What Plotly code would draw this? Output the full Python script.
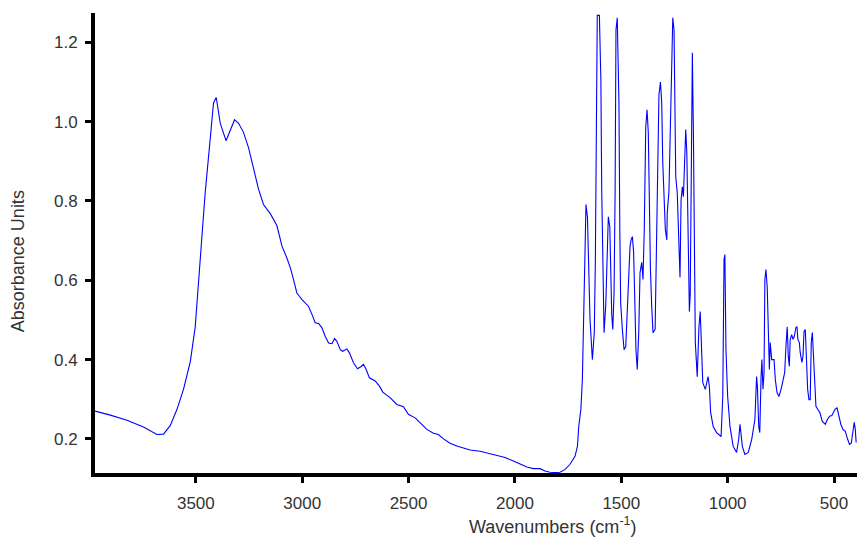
import plotly.graph_objects as go

# Wavenumbers (cm-1) and absorbance
wavenumbers = [
    3974, 3902, 3824, 3746, 3683, 3652, 3620, 3589, 3558, 3526, 3503, 3479, 3456, 3432, 3417, 3404,
    3385, 3358, 3338, 3318, 3299, 3276, 3252, 3229, 3205, 3182, 3150, 3119, 3095, 3072, 3056, 3041,
    3025, 3001, 2970, 2954, 2939, 2923, 2907, 2892, 2876, 2860, 2848, 2837, 2821, 2809, 2790, 2778,
    2759, 2740, 2724, 2712, 2699, 2684, 2657, 2637, 2621, 2587, 2555, 2524, 2501, 2469, 2446, 2414,
    2383, 2360, 2336, 2305, 2273, 2242, 2211, 2164, 2117, 2078, 2046, 2007, 1976, 1944, 1913, 1882,
    1858, 1835, 1811, 1788, 1764, 1741, 1717, 1706, 1700, 1690, 1683, 1678, 1674, 1666, 1659, 1655,
    1647, 1636, 1627, 1622, 1617, 1613, 1603, 1596, 1592, 1587, 1581, 1573, 1566, 1561, 1554, 1550,
    1545, 1540, 1534, 1529, 1525, 1519, 1511, 1507, 1503, 1495, 1487, 1479, 1472, 1465, 1459, 1454,
    1448, 1442, 1437, 1431, 1425, 1418, 1412, 1404, 1398, 1392, 1385, 1379, 1373, 1368, 1363, 1357,
    1351, 1341, 1337, 1331, 1323, 1316, 1310, 1305, 1299, 1293, 1286, 1284, 1276, 1271, 1263, 1258,
    1252, 1249, 1244, 1237, 1229, 1224, 1219, 1213, 1208, 1204, 1197, 1192, 1186, 1180, 1176, 1169,
    1166, 1161, 1157, 1152, 1143, 1135, 1129, 1124, 1117, 1105, 1092, 1086, 1080, 1068, 1052, 1031,
    1023, 1017, 1013, 1008, 1000, 989, 974, 958, 948, 942, 937, 931, 919, 903, 887, 872,
    864, 860, 854, 849, 843, 839, 834, 829, 825, 820, 814, 809, 804, 800, 793, 782,
    776, 768, 759, 749, 740, 732, 726, 720, 715, 710, 706, 699, 693, 687, 679, 674,
    670, 663, 659, 651, 646, 641, 635, 629, 624, 618, 612, 607, 602, 598, 591, 585,
    576, 567, 555, 541, 531, 521, 510, 496, 486, 478, 468, 458, 447, 436, 427, 419,
    412, 405, 400, 396,
]
absorbance = [
    0.270, 0.260, 0.247, 0.230, 0.211, 0.212, 0.234, 0.274, 0.325, 0.395, 0.482, 0.656, 0.821, 0.959, 1.047, 1.061,
    0.995, 0.952, 0.977, 1.005, 0.996, 0.973, 0.934, 0.881, 0.829, 0.791, 0.768, 0.738, 0.686, 0.656, 0.632, 0.602,
    0.568, 0.551, 0.534, 0.514, 0.493, 0.491, 0.480, 0.459, 0.442, 0.440, 0.453, 0.446, 0.425, 0.421, 0.427, 0.417,
    0.392, 0.377, 0.382, 0.388, 0.375, 0.354, 0.346, 0.333, 0.318, 0.304, 0.287, 0.281, 0.262, 0.253, 0.241, 0.224,
    0.214, 0.211, 0.200, 0.189, 0.182, 0.176, 0.172, 0.169, 0.163, 0.158, 0.153, 0.144, 0.136, 0.129, 0.125, 0.125,
    0.119, 0.116, 0.115, 0.116, 0.123, 0.136, 0.157, 0.182, 0.232, 0.274, 0.350, 0.488, 0.634, 0.791, 0.758, 0.645,
    0.501, 0.400, 0.468, 0.645, 0.962, 1.268, 1.268, 1.105, 0.828, 0.619, 0.468, 0.539, 0.685, 0.760, 0.735, 0.619,
    0.514, 0.476, 0.569, 0.828, 1.231, 1.262, 1.048, 0.728, 0.544, 0.476, 0.425, 0.433, 0.519, 0.634, 0.685, 0.702,
    0.710, 0.670, 0.526, 0.425, 0.375, 0.468, 0.619, 0.645, 0.602, 0.728, 0.987, 1.030, 0.972, 0.760, 0.627, 0.534,
    0.468, 0.476, 0.594, 0.836, 1.068, 1.100, 1.048, 0.896, 0.803, 0.728, 0.702, 0.770, 0.823, 0.962, 1.206, 1.262,
    1.231, 1.030, 0.861, 0.821, 0.685, 0.607, 0.803, 0.836, 0.811, 0.886, 0.980, 0.922, 0.728, 0.521, 0.564, 1.022,
    1.174, 0.972, 0.594, 0.443, 0.357, 0.483, 0.521, 0.433, 0.342, 0.325, 0.357, 0.332, 0.267, 0.231, 0.216, 0.206,
    0.307, 0.652, 0.665, 0.425, 0.307, 0.231, 0.181, 0.166, 0.199, 0.237, 0.216, 0.181, 0.161, 0.166, 0.199, 0.249,
    0.357, 0.330, 0.231, 0.216, 0.357, 0.400, 0.325, 0.367, 0.602, 0.627, 0.582, 0.451, 0.375, 0.443, 0.400, 0.400,
    0.350, 0.317, 0.307, 0.325, 0.350, 0.367, 0.433, 0.483, 0.408, 0.383, 0.451, 0.463, 0.451, 0.458, 0.481, 0.483,
    0.451, 0.443, 0.418, 0.393, 0.408, 0.471, 0.476, 0.408, 0.325, 0.299, 0.299, 0.443, 0.468, 0.425, 0.325, 0.282,
    0.274, 0.267, 0.244, 0.237, 0.249, 0.257, 0.259, 0.274, 0.279, 0.262, 0.237, 0.224, 0.219, 0.199, 0.186, 0.189,
    0.216, 0.242, 0.224, 0.191,
]

x_ticks = [3500, 3000, 2500, 2000, 1500, 1000, 500]
y_ticks = [0.2, 0.4, 0.6, 0.8, 1.0, 1.2]
y_ticklabels = ["0.2", "0.4", "0.6", "0.8", "1.0", "1.2"]

FONT = "Liberation Sans, Arial, sans-serif"

fig = go.Figure(
    go.Scatter(
        x=wavenumbers,
        y=absorbance,
        mode="lines",
        line=dict(color="#0000ff", width=1.1),
        hoverinfo="x+y",
    )
)

axis_common = dict(
    showline=True,
    linecolor="black",
    linewidth=4,
    ticks="outside",
    ticklen=6,
    tickwidth=3,
    tickcolor="black",
    showgrid=False,
    zeroline=False,
    tickfont=dict(family=FONT, size=17, color="#333333"),
)

fig.update_layout(
    width=857,
    height=540,
    margin=dict(l=95, r=0, t=13, b=67),
    paper_bgcolor="white",
    plot_bgcolor="white",
    showlegend=False,
    xaxis=dict(range=[3974, 392], tickvals=x_ticks, ticklabelstandoff=6, **axis_common),
    yaxis=dict(range=[0.114, 1.274], tickvals=y_ticks, ticktext=y_ticklabels,
               ticklabelstandoff=4, **axis_common),
    annotations=[
        dict(
            text="Wavenumbers (cm<sup>-1</sup>)",
            xref="paper", yref="paper", x=0.601, y=-0.114,
            xanchor="center", yanchor="middle", showarrow=False,
            font=dict(family=FONT, size=18, color="#333333"),
        ),
        dict(
            text="Absorbance Units",
            xref="paper", yref="paper", x=-0.1, y=0.46,
            xanchor="center", yanchor="middle", showarrow=False, textangle=-90,
            font=dict(family=FONT, size=18, color="#333333"),
        ),
    ],
)

fig.write_html(
    "out.html",
    config={"displayModeBar": False},
    post_script="document.body.style.margin='0';document.body.style.overflow='hidden';",
)
